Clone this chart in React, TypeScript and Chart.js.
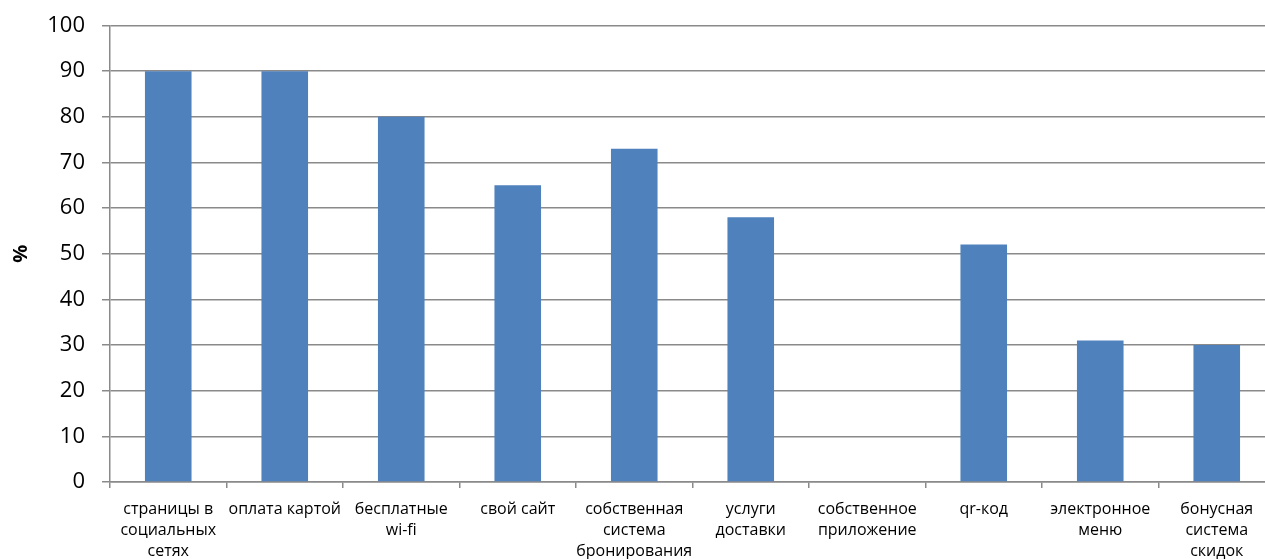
import React, { useEffect, useRef } from "react";
import { Chart, registerables } from "chart.js";

Chart.register(...registerables);

// Categories (multi-line labels) and percentages
const categories: (string | string[])[] = [
  ["страницы в", "социальных", "сетях"],
  "оплата картой",
  ["бесплатные", "wi-fi"],
  "свой сайт",
  ["собственная", "система", "бронирования"],
  ["услуги", "доставки"],
  ["собственное", "приложение"],
  "qr-код",
  ["электронное", "меню"],
  ["бонусная", "система", "скидок"],
];

const shares: number[] = [90, 90, 80, 65, 73, 58, 0, 52, 31, 30];

const yMin = 0;
const yMax = 100;
const yStep = 10;
const yTitle = "%";

const BAR = "#4f81bd";
const GRID = "#8a8a8a";
const FONT = "'Open Sans', 'DejaVu Sans', sans-serif";

export default function App() {
  const canvasRef = useRef<HTMLCanvasElement | null>(null);

  useEffect(() => {
    const canvas = canvasRef.current;
    if (!canvas) return;
    const chart = new Chart(canvas, {
      type: "bar",
      data: {
        labels: categories,
        datasets: [
          {
            data: shares,
            backgroundColor: BAR,
            borderWidth: 0,
            categoryPercentage: 1,
            barPercentage: 0.4,
          },
        ],
      },
      options: {
        animation: false,
        responsive: true,
        maintainAspectRatio: false,
        devicePixelRatio: 1,
        layout: { padding: { top: 25.5, left: 0, right: 0, bottom: 0 } },
        plugins: {
          legend: { display: false },
          tooltip: { enabled: false },
        },
        scales: {
          x: {
            offset: true,
            grid: {
              display: true,
              offset: true,
              drawOnChartArea: false,
              drawTicks: true,
              tickLength: 6,
              color: GRID,
              lineWidth: 1.5,
            },
            border: { display: true, color: GRID, width: 1.5 },
            ticks: {
              color: "#000",
              maxRotation: 0,
              minRotation: 0,
              autoSkip: false,
              padding: 11,
              font: { family: FONT, size: 16, lineHeight: 1.3 },
            },
            afterFit: (scale: any) => {
              scale.height = 77;
            },
          },
          y: {
            min: yMin,
            max: yMax,
            ticks: {
              stepSize: yStep,
              color: "#000",
              padding: 17,
              font: { family: FONT, size: 22 },
            },
            grid: {
              color: GRID,
              lineWidth: 1.5,
              tickLength: 8,
            },
            border: { display: true, color: GRID, width: 1.5 },
            title: {
              display: true,
              text: yTitle,
              color: "#000",
              font: { family: FONT, size: 20, weight: "bold", lineHeight: 1.2 },
              padding: { top: 9, bottom: 0 },
            },
            afterFit: (scale: any) => {
              scale.width = 110;
              // label padding only matters horizontally here
              scale.paddingTop = 13;
              scale.paddingBottom = 13;
            },
          },
        },
      },
    });
    return () => chart.destroy();
  }, []);

  return (
    <div
      style={{
        position: "fixed",
        left: 0,
        top: 0,
        width: 1275,
        height: 559,
        background: "#fff",
      }}
    >
      <canvas ref={canvasRef} />
    </div>
  );
}
